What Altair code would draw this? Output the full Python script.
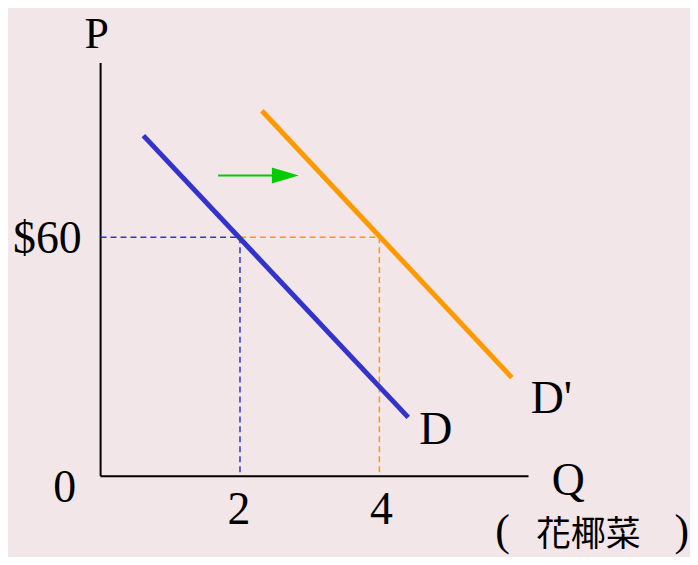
import altair as alt
import pandas as pd

# Demand curves (quantity Q, price P)
d_q = [0.614, 4.414]
d_p = [85.5, 14.75]
d2_q = [2.314, 5.9]
d2_p = [91.75, 24.75]

# Equilibrium guides
price = 60
q_d, q_d2 = 2, 4

# Shift arrow
arrow_q = [1.686, 2.486]
arrow_head_q = 2.65
arrow_p = 75.5

# Axis extents
q_max, p_max = 6.14, 103.75

W, H = 682, 549
xs = alt.Scale(domain=[-1.3286, 8.414], nice=False, zero=False)
ys = alt.Scale(domain=[-20, 117.25], nice=False, zero=False)

def X(f="Q"):
    return alt.X(f"{f}:Q", scale=xs, axis=None)

def Y(f="P"):
    return alt.Y(f"{f}:Q", scale=ys, axis=None)

def seg(q1, p1, q2, p2):
    return pd.DataFrame({"Q": [q1], "P": [p1], "Q2": [q2], "P2": [p2]})

def rule(df, color, width, dash=None):
    kw = dict(color=color, strokeWidth=width)
    if dash:
        kw["strokeDash"] = dash
    return alt.Chart(df).mark_rule(**kw).encode(
        x=X(), y=Y(), x2="Q2:Q", y2="P2:Q")

axes = rule(pd.DataFrame({"Q": [0, 0], "P": [0, 0], "Q2": [0, q_max], "P2": [p_max, 0]}), "black", 2)

guides = alt.layer(
    rule(seg(0, price, q_d, price), "#3333cc", 1.5, [6, 4]),
    rule(seg(q_d, price, q_d, 0), "#3333cc", 1.5, [6, 4]),
    rule(seg(q_d, price, q_d2, price), "#ff9900", 1.5, [6, 4]),
    rule(seg(q_d2, price, q_d2, 0), "#ff9900", 1.5, [6, 4]),
)

demand = rule(seg(d_q[0], d_p[0], d_q[1], d_p[1]), "#3333cc", 5)
demand2 = rule(seg(d2_q[0], d2_p[0], d2_q[1], d2_p[1]), "#ff9900", 5)

arrow_line = rule(seg(arrow_q[0], arrow_p, arrow_q[1], arrow_p), "#00cc00", 2)
arrow_head = alt.Chart(pd.DataFrame({"Q": [arrow_head_q], "P": [arrow_p]})).mark_point(
    shape="M-1,-0.6L1,0L-1,0.6Z", size=729, filled=True, color="#00cc00", opacity=1
).encode(x=X(), y=Y())

def label(text, q, p, dx, dy, align="center", font="Liberation Serif", size=46):
    return alt.Chart(pd.DataFrame({"Q": [q], "P": [p], "t": [text]})).mark_text(
        font=font, fontSize=size, align=align, baseline="alphabetic",
        dx=dx, dy=dy, color="black"
    ).encode(x=X(), y=Y(), text="t:N")

labels = alt.layer(
    label("P", 0, p_max, -4, -15, size=44),
    label("$60", 0, price, -19, 16, align="right"),
    label("0", 0, 0, -36, 26),
    label(str(q_d), q_d, 0, -1, 48),
    label(str(q_d2), q_d2, 0, 2, 48),
    label("Q", q_max, 0, 40, 19),
    label("(", q_max, 0, -26, 69, size=44),
    label("花椰菜", q_max, 0, 60, 70, font="Noto Sans CJK TC", size=35),
    label(")", q_max, 0, 154, 69, size=44),
    label("D", d_q[1], d_p[1], 11, 27, align="left"),
    label("D'", d2_q[1], d2_p[1], 19, 36, align="left"),
)

chart = alt.layer(axes, guides, demand, demand2, arrow_line, arrow_head, labels).properties(
    width=W, height=H, padding=0, background="#f3e6e9"
).configure_view(stroke=None)

chart.save("out.html", embed_options={"renderer": "svg", "actions": False})
